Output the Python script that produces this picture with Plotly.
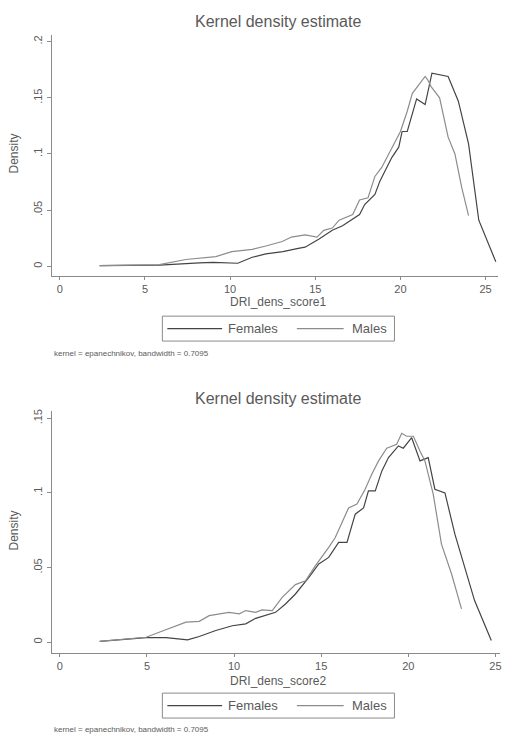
import plotly.graph_objects as go

# ---------- data: panel 1 (DRI_dens_score1) ----------
f1_x = [2.34, 5.85, 8.19, 9.0, 10.45, 11.3, 12.1, 13.1, 14.0, 14.4, 15.2, 16.0, 16.6, 17.2, 17.6,
        17.9, 18.5, 18.8, 19.2, 19.5, 19.9, 20.1, 20.4, 20.95, 21.45, 21.85, 22.8, 23.4, 24.0, 24.6, 25.6]
f1_y = [0.0006, 0.001, 0.003, 0.0035, 0.0027, 0.008, 0.011, 0.013, 0.016, 0.017, 0.024, 0.032, 0.036, 0.042, 0.046,
        0.055, 0.064, 0.076, 0.088, 0.097, 0.106, 0.120, 0.120, 0.149, 0.144, 0.172, 0.169, 0.147, 0.109, 0.041, 0.004]
m1_x = [2.34, 5.85, 7.4, 9.16, 10.1, 11.3, 12.1, 13.06, 13.6, 14.4, 15.1, 15.5, 16.0, 16.4, 17.2, 17.6,
        18.1, 18.5, 18.9, 19.3, 19.8, 20.0, 20.4, 20.7, 21.1, 21.45, 21.6, 21.8, 22.3, 22.8, 23.2, 23.6, 24.0]
m1_y = [0.0006, 0.0015, 0.006, 0.0086, 0.013, 0.015, 0.018, 0.022, 0.026, 0.028, 0.026, 0.032, 0.034, 0.041, 0.046, 0.059,
        0.061, 0.080, 0.088, 0.100, 0.114, 0.120, 0.138, 0.154, 0.162, 0.169, 0.166, 0.160, 0.150, 0.115, 0.100, 0.070, 0.045]

# ---------- data: panel 2 (DRI_dens_score2) ----------
f2_x = [2.29, 4.95, 6.1, 7.33, 8.0, 8.95, 9.9, 10.67, 11.24, 11.8, 12.38, 12.95, 13.52, 14.29, 14.86, 15.43,
        16.0, 16.48, 16.95, 17.43, 17.71, 18.1, 18.48, 18.86, 19.43, 19.71, 20.19, 20.67, 21.14, 21.52,
        22.1, 22.67, 23.8, 24.76]
f2_y = [0.0005, 0.003, 0.003, 0.0016, 0.0038, 0.0078, 0.011, 0.0123, 0.016, 0.0178, 0.020, 0.0256, 0.0323, 0.0435, 0.0524, 0.0568,
        0.0669, 0.0669, 0.0858, 0.090, 0.1014, 0.1014, 0.1148, 0.1237, 0.1315, 0.130, 0.137, 0.1215, 0.1237, 0.1025,
        0.100, 0.0724, 0.0279, 0.0011]
m2_x = [2.29, 3.8, 4.95, 5.7, 6.48, 7.24, 8.0, 8.57, 9.7, 10.3, 10.67, 11.24, 11.6, 12.19, 12.76, 13.52, 14.1,
        14.67, 15.43, 15.8, 16.57, 17.05, 17.52, 17.9, 18.29, 18.76, 19.33, 19.62, 19.9, 20.29, 20.67, 20.95,
        21.43, 21.9, 22.48, 23.05]
m2_y = [0.0005, 0.002, 0.0033, 0.0067, 0.010, 0.0134, 0.014, 0.0178, 0.020, 0.019, 0.0212, 0.020, 0.0216, 0.0212, 0.030, 0.0386, 0.0412,
        0.0513, 0.0635, 0.070, 0.090, 0.0925, 0.1025, 0.1125, 0.1215, 0.130, 0.1326, 0.140, 0.138, 0.138, 0.128, 0.1215,
        0.099, 0.0657, 0.0457, 0.0223]

x_ticks = [0, 5, 10, 15, 20, 25]
y1_ticks = [0, 0.05, 0.1, 0.15, 0.2]
y1_labels = ["0", ".05", ".1", ".15", ".2"]
y2_ticks = [0, 0.05, 0.1, 0.15]
y2_labels = ["0", ".05", ".1", ".15"]
series_names = ["Females", "Males"]
note_text = "kernel = epanechnikov, bandwidth = 0.7095"

W, H = 507, 736
DARK = "#444444"
LIGHT = "#8c8c8c"
TXT = "#5a5a5a"
AX = "#8a8a8a"
FONT = "Liberation Sans, Arial, sans-serif"

def px(x):
    return x / W

def py(y):
    return 1 - y / H

fig = go.Figure()
fig.add_trace(go.Scatter(x=f1_x, y=f1_y, mode="lines", line=dict(color=DARK, width=1.2), name=series_names[0],
                         xaxis="x", yaxis="y", showlegend=False))
fig.add_trace(go.Scatter(x=m1_x, y=m1_y, mode="lines", line=dict(color=LIGHT, width=1.2), name=series_names[1],
                         xaxis="x", yaxis="y", showlegend=False))
fig.add_trace(go.Scatter(x=f2_x, y=f2_y, mode="lines", line=dict(color=DARK, width=1.2), name=series_names[0],
                         xaxis="x2", yaxis="y2", showlegend=False))
fig.add_trace(go.Scatter(x=m2_x, y=m2_y, mode="lines", line=dict(color=LIGHT, width=1.2), name=series_names[1],
                         xaxis="x2", yaxis="y2", showlegend=False))

xcommon = dict(showgrid=False, zeroline=False, showline=True, linecolor=AX, linewidth=1,
               ticks="outside", ticklen=3, tickcolor=AX, tickvals=x_ticks,
               tickfont=dict(family=FONT, size=11, color=TXT), fixedrange=True)
ycommon = dict(showgrid=False, zeroline=False, showline=True, linecolor=AX, linewidth=1,
               ticks="outside", ticklen=4, tickcolor=AX, tickangle=-90,
               tickfont=dict(family=FONT, size=11, color=TXT), fixedrange=True)

fig.update_layout(
    width=W, height=H, margin=dict(l=0, r=0, t=0, b=0),
    paper_bgcolor="white", plot_bgcolor="white", showlegend=False,
    xaxis=dict(xcommon, domain=[px(52), px(500)], range=[-0.47, 25.73], anchor="y"),
    yaxis=dict(ycommon, domain=[py(275), py(33)], range=[-0.0089, 0.206], anchor="x",
               tickvals=y1_ticks, ticktext=y1_labels),
    xaxis2=dict(xcommon, domain=[px(52), px(502)], range=[-0.46, 25.26], anchor="y2"),
    yaxis2=dict(ycommon, domain=[py(653), py(410)], range=[-0.0074, 0.155], anchor="x2",
                tickvals=y2_ticks, ticktext=y2_labels),
)

ann = []
shapes = []

def panel(title_y, ytitle_y, xtitle_y, xtitle, leg_top, leg_bot, note_y):
    ann.append(dict(text="Kernel density estimate", x=px(279), y=py(title_y), xref="paper", yref="paper",
                    showarrow=False, font=dict(family=FONT, size=16, color=TXT), xanchor="center", yanchor="middle"))
    ann.append(dict(text="Density", x=px(14), y=py(ytitle_y), xref="paper", yref="paper", textangle=-90,
                    showarrow=False, font=dict(family=FONT, size=12, color=TXT), xanchor="center", yanchor="middle"))
    ann.append(dict(text=xtitle, x=px(279), y=py(xtitle_y), xref="paper", yref="paper",
                    showarrow=False, font=dict(family=FONT, size=12, color=TXT), xanchor="center", yanchor="middle"))
    shapes.append(dict(type="rect", xref="paper", yref="paper", x0=px(163), x1=px(396), y0=py(leg_bot), y1=py(leg_top),
                       line=dict(color=AX, width=1), fillcolor="rgba(0,0,0,0)"))
    ly = (leg_top + leg_bot) / 2
    shapes.append(dict(type="line", xref="paper", yref="paper", x0=px(168), x1=px(223), y0=py(ly), y1=py(ly),
                       line=dict(color=DARK, width=1.2)))
    shapes.append(dict(type="line", xref="paper", yref="paper", x0=px(298), x1=px(345), y0=py(ly), y1=py(ly),
                       line=dict(color=LIGHT, width=1.2)))
    ann.append(dict(text=series_names[0], x=px(227), y=py(ly), xref="paper", yref="paper", showarrow=False,
                    font=dict(family=FONT, size=13, color=TXT), xanchor="left", yanchor="middle"))
    ann.append(dict(text=series_names[1], x=px(391), y=py(ly), xref="paper", yref="paper", showarrow=False,
                    font=dict(family=FONT, size=13, color=TXT), xanchor="right", yanchor="middle"))
    ann.append(dict(text=note_text, x=px(52), y=py(note_y), xref="paper", yref="paper", showarrow=False,
                    font=dict(family=FONT, size=8, color=TXT), xanchor="left", yanchor="middle"))

panel(20, 152, 301, "DRI_dens_score1", 315, 340, 352)
panel(398, 530, 681, "DRI_dens_score2", 693, 718, 729)

fig.update_layout(annotations=ann, shapes=shapes)
fig.write_html("out.html", config={"displayModeBar": False},
               post_script="document.body.style.margin='0';document.body.style.overflow='hidden';")
